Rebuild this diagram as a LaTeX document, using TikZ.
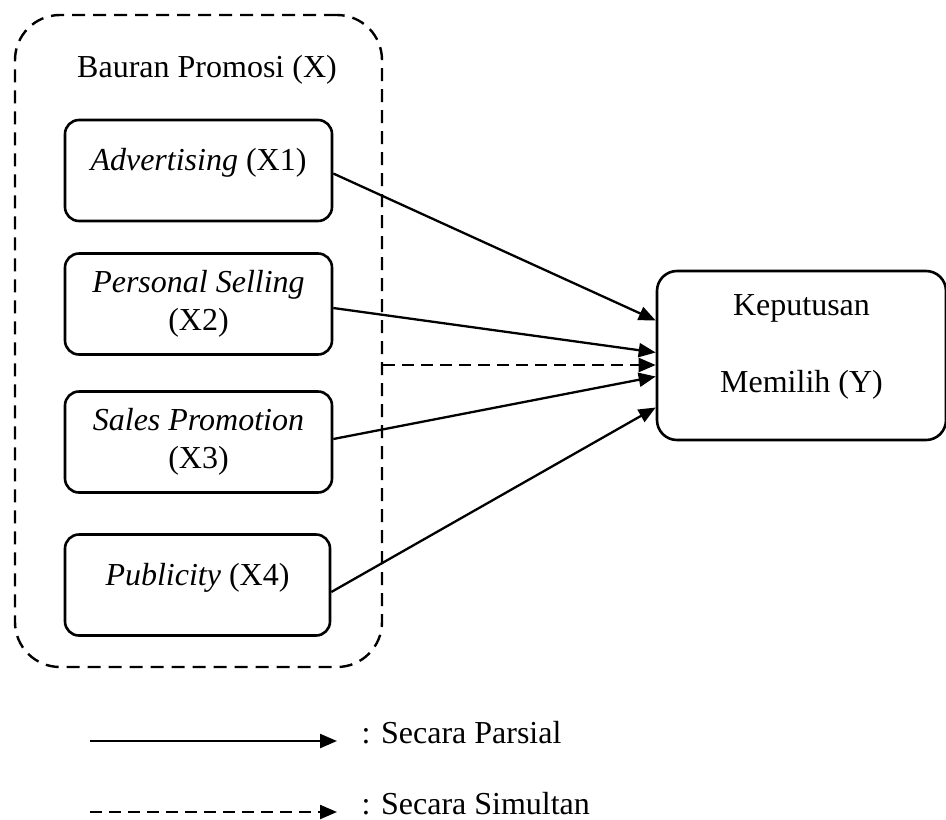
\documentclass[tikz,border=0pt]{standalone}
\usepackage{fontspec}
\setmainfont{Liberation Serif}
\usetikzlibrary{arrows.meta}

\tikzset{
  variabel/.style={draw, line width=2.6pt, rounded corners=14pt, minimum width=267pt,
    minimum height=101pt, inner sep=0pt, align=center},
  parsial/.style={line width=2.3pt, -{Triangle[length=17pt,width=14pt]}},
  simultan/.style={parsial, dash pattern=on 12pt off 7pt},
}

\begin{document}
\begin{tikzpicture}[x=1pt,y=-1pt,font=\fontsize{32}{38}\selectfont]
  \useasboundingbox (0,0) rectangle (946,820);
  % kelompok variabel X
  \node[draw, line width=2.4pt, dash pattern=on 13pt off 8pt, rounded corners=45pt,
    minimum width=367pt, minimum height=652pt] (bauran) at (198.5,341) {};
  \node (judul) at (207,70) {Bauran Promosi (X)};
  \node[variabel, text depth=22pt] (x1) at (198.5,170.5) {\textit{Advertising} (X1)};
  \node[variabel] (x2) at (198.5,304) {\textit{Personal Selling}\\(X2)};
  \node[variabel] (x3) at (198.5,442) {\textit{Sales Promotion}\\(X3)};
  \node[variabel, text depth=22pt, minimum width=265pt] (x4) at (197.5,585) {\textit{Publicity}\ (X4)};
  % variabel Y
  \node[draw, line width=2.6pt, rounded corners=20pt, minimum width=289pt, minimum height=169pt,
    inner sep=0pt, align=center, text depth=24pt] (keputusan) at (801.5,355.5) {Keputusan\\[39pt]Memilih (Y)};
  % pengaruh
  \draw[parsial] ([yshift=-3pt]x1.east) -- ([yshift=35pt]keputusan.west);
  \draw[parsial] ([yshift=-4pt]x2.east) -- ([yshift=3pt]keputusan.west);
  \draw[parsial] ([yshift=3pt]x3.east) -- ([yshift=-21pt]keputusan.west);
  \draw[parsial] ([yshift=-7pt]x4.east) -- ([yshift=-52pt]keputusan.west);
  \draw[simultan] ([yshift=-24pt]bauran.east) -- ([yshift=-24pt]bauran.east -| keputusan.west);
  % keterangan
  \coordinate (p1) at (90,741);
  \coordinate (p2) at (337,741);
  \coordinate (s1) at (90,812);
  \coordinate (s2) at (337,812);
  \draw[parsial] (p1) -- (p2);
  \draw[simultan] (s1) -- (s2);
  \node[anchor=west] (ketp) at (358,733) {: Secara Parsial};
  \node[anchor=west] (kets) at (358,804) {: Secara Simultan};
\end{tikzpicture}
\end{document}
